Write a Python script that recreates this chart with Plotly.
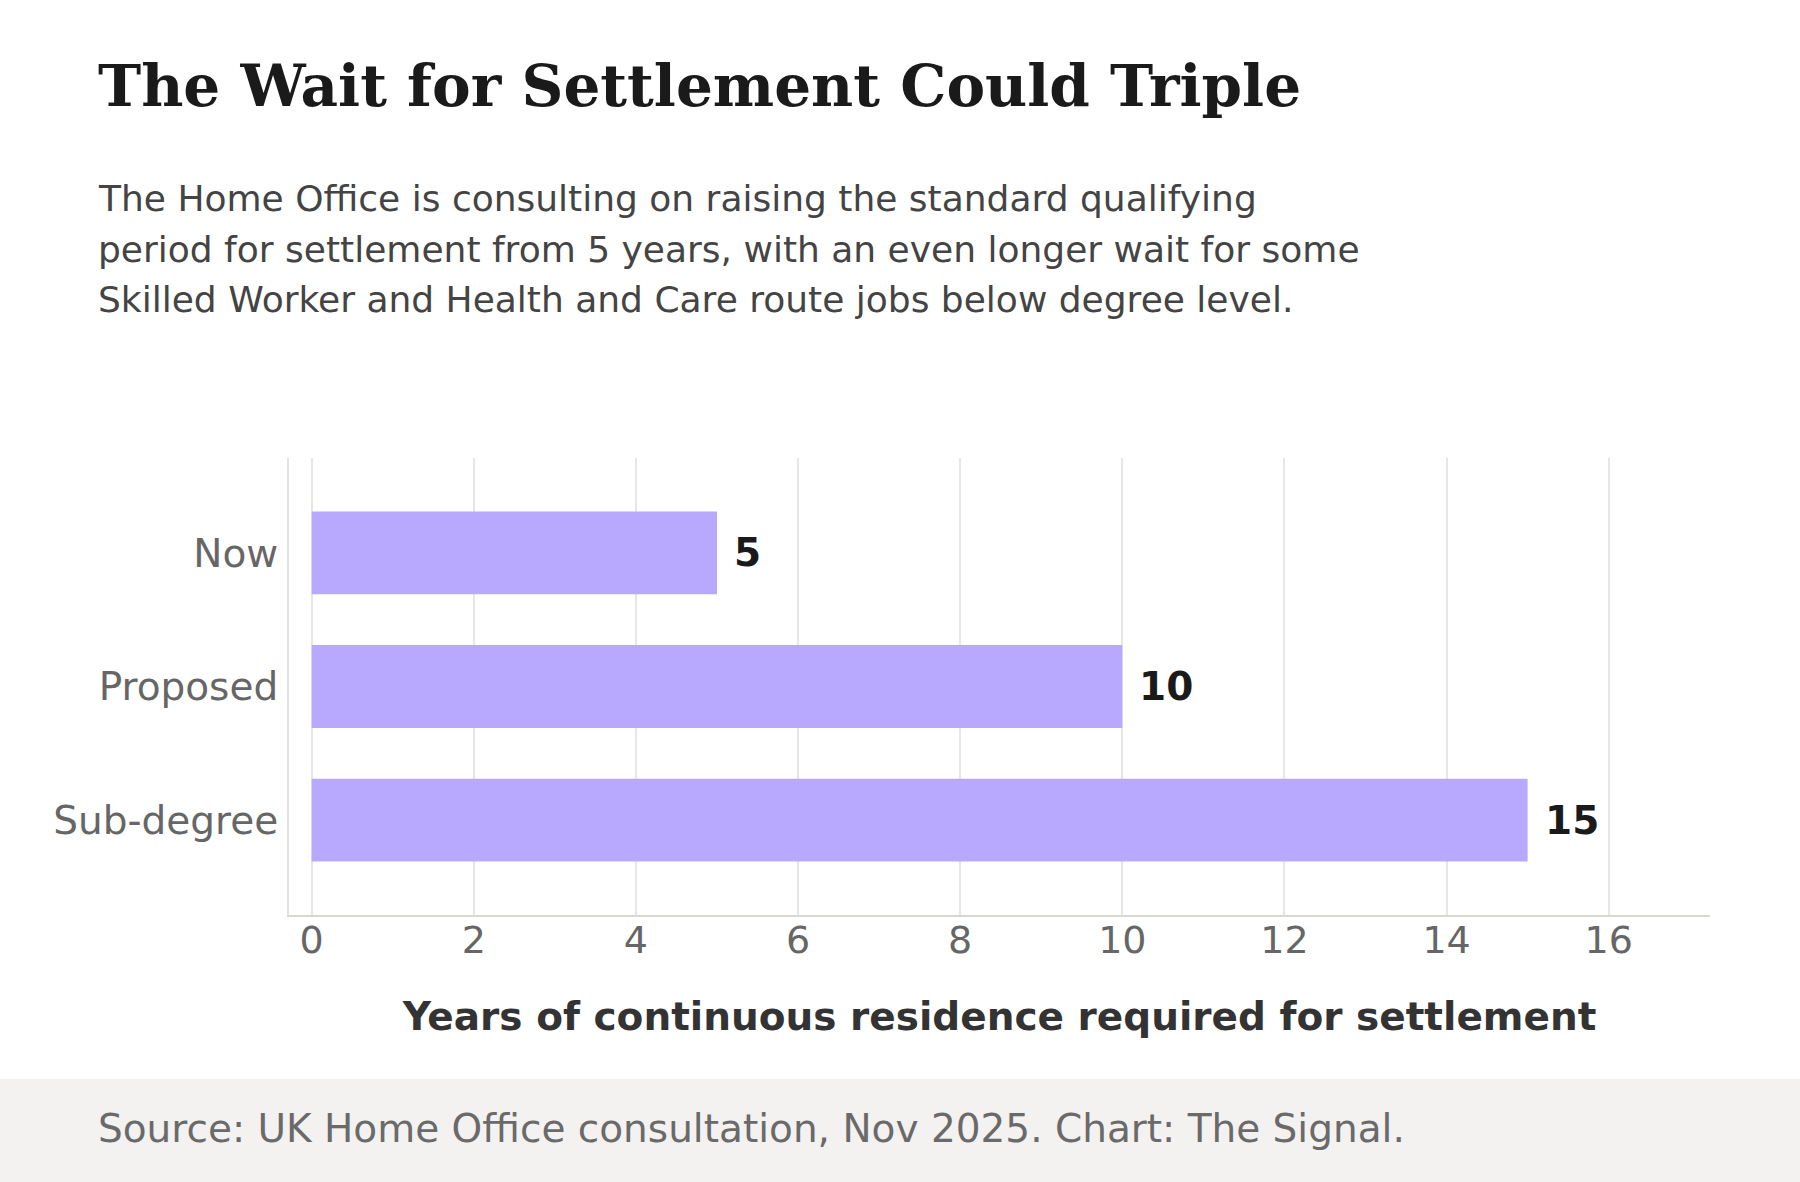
import plotly.graph_objects as go

categories = ['Now', 'Proposed', 'Sub-degree']
years = [5, 10, 15]
tick_values = [0, 2, 4, 6, 8, 10, 12, 14, 16]

title_text = 'The Wait for Settlement Could Triple'
subtitle_lines = [
    'The Home Office is consulting on raising the standard qualifying',
    'period for settlement from 5 years, with an even longer wait for some',
    'Skilled Worker and Health and Care route jobs below degree level.',
]
source_text = 'Source: UK Home Office consultation, Nov 2025. Chart: The Signal.'
axis_title = 'Years of continuous residence required for settlement'

W, H = 1800, 1182
left, right, top, bottom = 289, 90, 458, 267
plot_w = W - left - right
plot_h = H - top - bottom


def px_x(x):
    return (x - left) / plot_w


def px_y(y):
    return (H - bottom - y) / plot_h


fig = go.Figure(go.Bar(
    x=years,
    y=categories,
    orientation='h',
    marker=dict(color='#b8a9fe', line_width=0),
    hoverinfo='skip',
))

# value labels next to bar ends
for cat, val in zip(categories, years):
    fig.add_annotation(
        x=val, y=cat, xref='x', yref='y',
        text='<b>%d</b>' % val, showarrow=False,
        xanchor='left', xshift=15,
        font=dict(family='DejaVu Sans', size=39, color='#1a1a1a'),
    )

fig.add_annotation(
    x=px_x(96), y=px_y(86), xref='paper', yref='paper',
    text='<b>%s</b>' % title_text, showarrow=False,
    xanchor='left', yanchor='middle',
    font=dict(family='DejaVu Serif', size=58, color='#1a1a1a'),
)

for i, line in enumerate(subtitle_lines):
    fig.add_annotation(
        x=px_x(96), y=px_y(199 + i * 50), xref='paper', yref='paper',
        text=line, showarrow=False,
        xanchor='left', yanchor='middle',
        font=dict(family='DejaVu Sans', size=36, color='#444444'),
    )

# footer band
fig.add_shape(
    type='rect', xref='paper', yref='paper',
    x0=px_x(0), x1=px_x(W), y0=px_y(1079), y1=px_y(H),
    fillcolor='#f3f2f0', line_width=0, layer='below',
)
fig.add_annotation(
    x=px_x(96), y=px_y(1128), xref='paper', yref='paper',
    text=source_text, showarrow=False,
    xanchor='left', yanchor='middle',
    font=dict(family='DejaVu Sans', size=39, color='#6a6a6a'),
)

fig.update_layout(
    width=W, height=H,
    margin=dict(l=left, r=right, t=top, b=bottom),
    paper_bgcolor='white', plot_bgcolor='white',
    bargap=0.38,
    showlegend=False,
    font=dict(family='DejaVu Sans'),
)
fig.update_xaxes(
    range=[-0.28, 17.25],
    tickvals=tick_values,
    tickfont=dict(size=38, color='#666666'),
    showgrid=True, gridcolor='#e6e6e2', gridwidth=2,
    zeroline=False,
    showline=True, linecolor='#d8d8d2', linewidth=2,
    ticks='', ticklabelstandoff=-10,
    title=dict(text='<b>%s</b>' % axis_title, standoff=42,
               font=dict(size=39, color='#333333')),
)
fig.update_yaxes(
    autorange=False, range=[2.71, -0.71],
    tickfont=dict(size=39, color='#666666'),
    showgrid=False, zeroline=False,
    showline=True, linecolor='#e2e2e2', linewidth=2,
    ticks='', ticklabelstandoff=1,
)

fig.write_html('out.html', config={'displayModeBar': False},
               post_script="document.body.style.margin='0';")
